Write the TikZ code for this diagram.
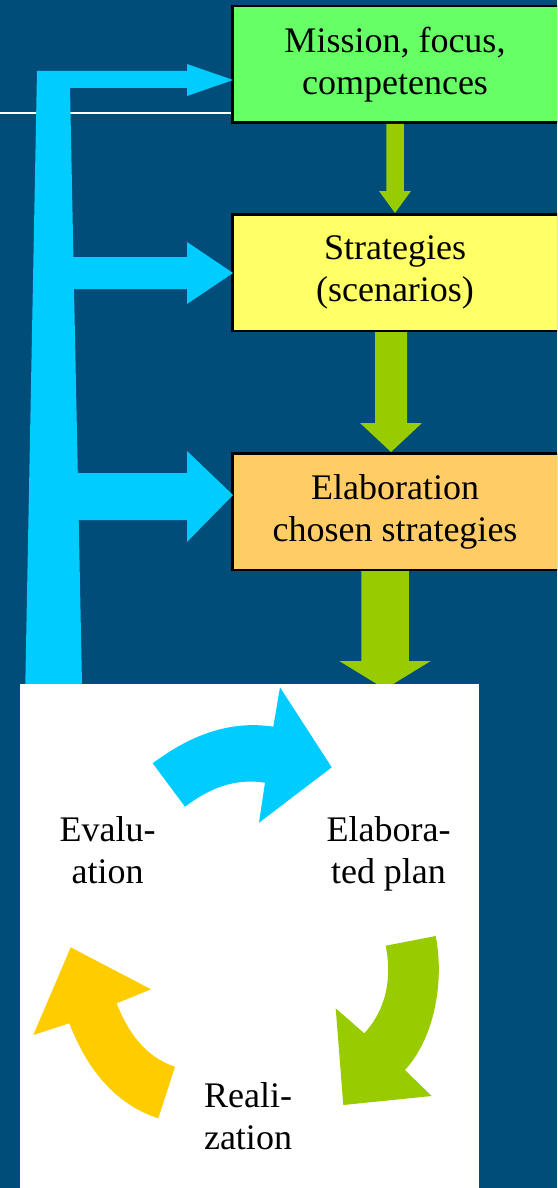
\documentclass[tikz,border=0pt]{standalone}
\usepackage{fontspec}
\setmainfont{Liberation Serif}
\newfontfamily\stagefont{Liberation Serif}
\usetikzlibrary{calc, positioning}
\definecolor{DeepBlue}{RGB}{0, 77, 122}
\definecolor{SkyBlue}{HTML}{00CCFF}
\definecolor{LeafGreen}{HTML}{99CC00}
\definecolor{Sun}{HTML}{FFCC00}
\definecolor{LiteGreen}{HTML}{66FF66}
\definecolor{LiteYellow}{HTML}{FFFF66}
\definecolor{LiteOrange}{HTML}{FFCC66}
\tikzset{%
  stage_block/.style={%
    rectangle,%
    draw=black,%
    line width=2.5pt,%
    minimum width=325.5pt,%
    minimum height=116.5pt,%
    font={\stagefont\fontsize{36}{42}\selectfont},%
    align=center%
  },
  rule_line/.style={%
    draw=white,%
    line width=2pt,%
  },
  feedback_arrow/.style={%
    fill=SkyBlue,%
  },
  flow_arrow/.style={%
    fill=LeafGreen,%
  },
  cycle_panel/.style={%
    rectangle,%
    fill=white,%
    inner sep=0pt,%
    minimum width=459.5pt,%
    minimum height=520pt,%
  },
  cycle_label/.style={%
    font={\stagefont\fontsize{36}{42}\selectfont},%
    align=center,%
  },
}
\begin{document}
\begin{tikzpicture}[x=1pt, y=-1pt]
    \useasboundingbox (0,0) rectangle (557,1188);
    \clip (0,0) rectangle (557,1188);
    \fill[DeepBlue] (0,0) rectangle (557,1188);

    \node[stage_block, fill=LiteGreen] (Mission) at (395,64.5)
      {Mission, focus,\\competences};
    \node[stage_block, fill=LiteYellow, below = 89pt of Mission] (Strategies)
      {Strategies\\(scenarios)};
    \node[stage_block, fill=LiteOrange, below = 120pt of Strategies] (Elaboration)
      {Elaboration\\chosen strategies};

    % thin rule on the left
    \coordinate (leftEdge) at (0,113);
    \draw[rule_line]
      (leftEdge)
      --
      ($(Mission.south west)+(0,-11)$);

    % feedback from the cycle back to the three stages
    \fill[feedback_arrow]
      (37,71)
      -- ($(Mission.west)+(-44,6.5)$)
      -- ($(Mission.west)+(-44,-0.5)$)
      -- ($(Mission.west)+(2,15.5)$)
      -- ($(Mission.west)+(-44,31.5)$)
      -- ($(Mission.west)+(-44,23.5)$)
      -- (70,88)
      -- (73.4,257)
      -- ($(Strategies.west)+(-44,-15.5)$)
      -- ($(Strategies.west)+(-44,-30.5)$)
      -- ($(Strategies.west)+(2,0.5)$)
      -- ($(Strategies.west)+(-44,31.5)$)
      -- ($(Strategies.west)+(-44,16.5)$)
      -- (74,289)
      -- (77.8,473)
      -- ($(Elaboration.west)+(-44,-38.5)$)
      -- ($(Elaboration.west)+(-44,-60.5)$)
      -- ($(Elaboration.west)+(2,-16.5)$)
      -- ($(Elaboration.west)+(-44,30.5)$)
      -- ($(Elaboration.west)+(-44,8.5)$)
      -- (78.7,520)
      -- (82.3,700)
      -- (25,700)
      -- cycle;

    % downward flow
    \fill[flow_arrow]
      ($(Mission.south)+(-8.75,0)$)
      -- ($(Strategies.north)+(-8.75,-22)$)
      -- ($(Strategies.north)+(-16,-22)$)
      -- (Strategies.north)
      -- ($(Strategies.north)+(16,-22)$)
      -- ($(Strategies.north)+(8.75,-22)$)
      -- ($(Mission.south)+(8.75,0)$)
      -- cycle;
    \fill[flow_arrow]
      ($(Strategies.south)+(-20,0)$)
      -- ($(Elaboration.north)+(-20,-29)$)
      -- ($(Elaboration.north)+(-35,-29)$)
      -- ($(Elaboration.north)+(-4,0)$)
      -- ($(Elaboration.north)+(27,-29)$)
      -- ($(Elaboration.north)+(12,-29)$)
      -- ($(Strategies.south)+(12,0)$)
      -- cycle;
    \coordinate (PlanEntry) at ($(Elaboration.south)+(-10,118)$);
    \fill[flow_arrow]
      ($(Elaboration.south)+(-33.75,0)$)
      -- ($(PlanEntry)+(-23.75,-28)$)
      -- ($(PlanEntry)+(-45.75,-28)$)
      -- (PlanEntry)
      -- ($(PlanEntry)+(45.75,-28)$)
      -- ($(PlanEntry)+(23.75,-28)$)
      -- ($(Elaboration.south)+(13.75,0)$)
      -- cycle;

    % the cycle
    \node[cycle_panel, anchor=north west] (Cycle) at (19.5,684) {};

    \fill[SkyBlue]
      (152.7,763.3)
      .. controls (188.7,736.3) and (228.8,719.8) ..
      (273.3,726.7)
      -- (280,687.3)
      -- (331.7,767.3)
      -- (259,822.7)
      -- (265,782.7)
      .. controls (234.4,778) and (209.8,788.1) ..
      (185,806.7)
      -- cycle;
    \fill[LeafGreen]
      (435.7,936)
      .. controls (444.3,980) and (435.4,1036.8) ..
      (405,1070)
      -- (431.7,1096)
      -- (343.3,1105)
      -- (335.7,1008.3)
      -- (364.3,1033.3)
      .. controls (386.6,1008.9) and (392,978) ..
      (385.7,945.7)
      -- cycle;
    \fill[Sun]
      (158.3,1118.3)
      .. controls (113.6,1103.8) and (86.3,1067.1) ..
      (69.3,1023.3)
      -- (33.3,1035)
      -- (70.7,947.3)
      -- (151,989.3)
      -- (116.7,1003.3)
      .. controls (127.9,1032.2) and (145.5,1057.2) ..
      (175,1066.7)
      -- cycle;

    \node[cycle_label] (Evaluation) at (107.6,850) {Evalu-\\ation};
    \node[cycle_label] (Plan) at (388.5,853.5) {Elabora-\\ted plan};
    \node[cycle_label] (Realization) at (248,1116.5) {Reali-\\zation};

  \end{tikzpicture}
\end{document}
